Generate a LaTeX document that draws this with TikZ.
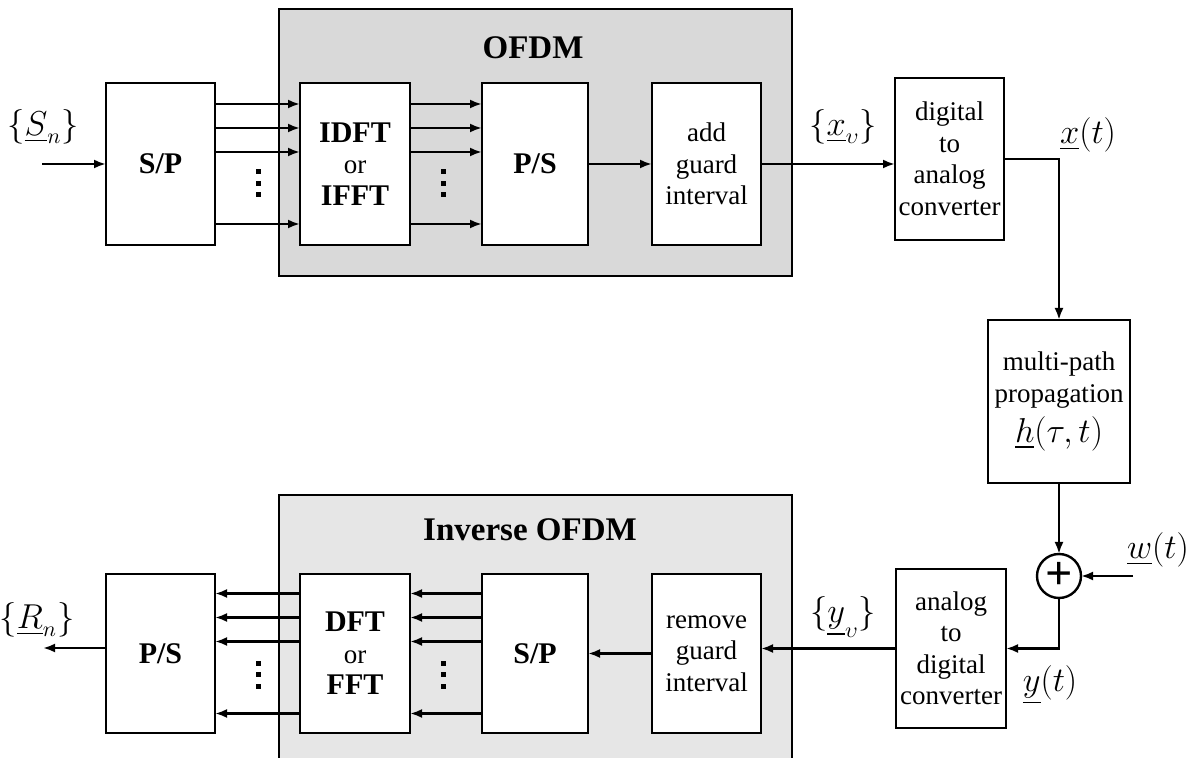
\documentclass[tikz,border=0pt]{standalone}
\usepackage{fontspec}
\setmainfont{Liberation Serif}
\usepackage{amsmath}
\usetikzlibrary{positioning,arrows.meta,calc}
\definecolor{cfondo}{HTML}{D9D9D9}
\definecolor{cfondoinv}{HTML}{E6E6E6}
\newcommand{\tamtexto}{\fontsize{13.5}{15.75}\selectfont}
\newcommand{\tamnegr}{\fontsize{15}{15.75}\selectfont\bfseries}
\tikzset{
  bloque/.style={rectangle, draw, line width=1.4pt, fill=white,
    minimum width=54.5pt, minimum height=81pt, inner sep=0pt, outer sep=0pt,
    align=center, font=\tamtexto},
  bloquen/.style={bloque, font=\tamnegr},
  flecha/.style={-{Latex[length=6pt,width=4.5pt]}, line width=1.2pt},
  sumador/.style={circle, draw, line width=1.2pt, minimum size=22pt,
    inner sep=0pt, outer sep=0pt, fill=white, font=\fontsize{24}{24}\selectfont\bfseries},
  etq/.style={font=\fontsize{16}{16}\selectfont, inner sep=0pt},
  etqg/.style={font=\fontsize{18.5}{18.5}\selectfont, inner sep=0pt},
  marco/.style={draw, line width=0.6pt},
  titulo/.style={font=\fontsize{16.5}{18}\selectfont\bfseries, inner sep=0pt},
}

\begin{document}
\begin{tikzpicture}[x=0.5pt, y=-0.5pt]
  \useasboundingbox (0,0) rectangle (1194,758);
  % fondos gris
  \fill[cfondo] (279,9) rectangle (792,276);
  \draw[marco] (279,9) rectangle (792,276);
  \fill[cfondoinv] (279,495) rectangle (792,758);
  \draw[marco] (279,758) |- (792,495) -- (792,758);
  \node[titulo] (tofdm) at (533,48) {OFDM};
  \node[titulo] (tinv) at (530,530) {Inverse OFDM};

  % transmisor
  \node[bloquen] (sp1) at (160.5,164) {S/P};
  \node[bloque, minimum width=55pt, right=42.5pt of sp1] (idft)
    {{\tamnegr IDFT}\\or\\{\tamnegr IFFT}};
  \node[bloquen, minimum width=53pt, right=36pt of idft] (ps1) {P/S};
  \node[bloque, right=32pt of ps1] (addgi) {add\\guard\\interval};
  \node[bloque] (dac) at (949.5,159) {digital\\to\\analog\\converter};

  % canal
  \node[bloque, minimum width=71pt, minimum height=81.5pt] (mpp) at (1059,401.5)
    {multi-path\\propagation\\[3pt]{\fontsize{18}{20}\selectfont$\underline{h}(\tau,t)$}};
  \node[sumador] (adder) at (1059,576) {+};

  % receptor
  \node[bloque, minimum width=55pt, minimum height=79.5pt] (adc) at (951,648.5)
    {analog\\to\\digital\\converter};
  \node[bloque, minimum height=79.5pt] (rmgi) at (706.5,653.5) {remove\\guard\\interval};
  \node[bloquen, minimum width=53pt, minimum height=79.5pt, left=32pt of rmgi] (sp2) {S/P};
  \node[bloque, minimum width=55pt, minimum height=79.5pt, left=36pt of sp2] (dft)
    {{\tamnegr DFT}\\or\\{\tamnegr FFT}};
  \node[bloquen, minimum height=79.5pt, left=42.5pt of dft] (ps2) {P/S};

  % flechas paralelas
  \foreach \d in {30,18,6,-30} {
    \draw[flecha] ([yshift=\d pt]sp1.east) -- ([yshift=\d pt]idft.west);
    \draw[flecha] ([yshift=\d pt]idft.east) -- ([yshift=\d pt]ps1.west);
    \draw[flecha] ([yshift=\d pt]sp2.west) -- ([yshift=\d pt]dft.east);
    \draw[flecha] ([yshift=\d pt]dft.west) -- ([yshift=\d pt]ps2.east);
  }
  \foreach \px/\py in {258/172,443/172,258/663,443/663}
    \foreach \k in {0,1,2}
      \fill (\px-2.5,\py+11.5*\k-2.5) rectangle ++(5,5);

  % entrada y salida
  \coordinate (entrada) at (42,164);
  \draw[flecha] (entrada) -- (sp1.west);
  \node[etq] (lsn) at (43,127) {$\{\underline{S}_n\}$};
  \coordinate (salida) at (43,648);
  \draw[flecha] (ps2.west |- salida) -- (salida);
  \node[etq] (lrn) at (37,620) {$\{\underline{R}_n\}$};

  % cadena
  \draw[flecha] (ps1) -- (addgi);
  \draw[flecha] (addgi.east) -- (addgi.east -| dac.west);
  \node[etq] (lxv) at (843,127) {$\{\underline{x}_\upsilon\}$};
  \draw[flecha] (dac.east) -| (mpp.north);
  \node[etq] (lxt) at (1088,135) {$\underline{x}(t)$};
  \draw[flecha] (mpp) -- (adder);
  \coordinate (ruido) at (1133,576);
  \draw[flecha] (ruido) -- (adder);
  \node[etqg] (lwt) at (1158,550) {$\underline{w}(t)$};
  \draw[flecha] (adder.south) |- (adc.east);
  \node[etqg] (lyt) at (1050,685) {$\underline{y}(t)$};
  \draw[flecha] (adc.west) -- (adc.west -| rmgi.east);
  \node[etq] (lyv) at (843,617) {$\{\underline{y}_\upsilon\}$};
  \draw[flecha] (rmgi.west) -- (rmgi.west -| sp2.east);
\end{tikzpicture}
\end{document}
